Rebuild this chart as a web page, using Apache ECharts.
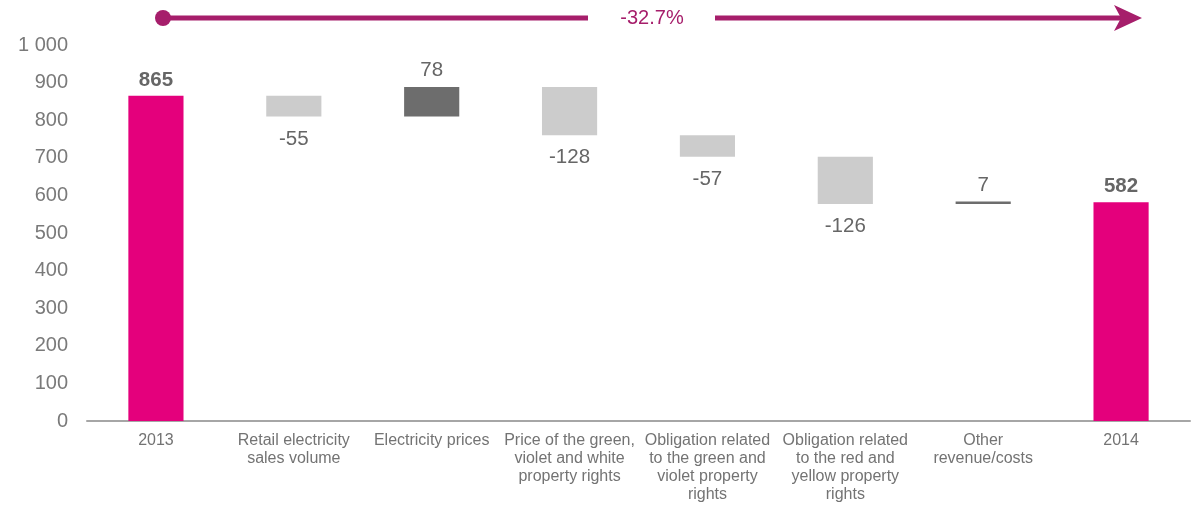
<!DOCTYPE html>
<html lang="en">
<head>
    <meta charset="UTF-8">
    <title>Waterfall 2013 - 2014</title>
    <script src="https://cdn.jsdelivr.net/npm/echarts@6/dist/echarts.min.js"></script>
    <style>
        html, body {margin: 0; padding: 0; background: #fff;}
    </style>
</head>
<body>
<div id="main" style="width: 1194px;height: 505px;"></div>

<script type="text/javascript">
    // categories and values
    var categories = [
        '2013',
        'Retail electricity\nsales volume',
        'Electricity prices',
        'Price of the green,\nviolet and white\nproperty rights',
        'Obligation related\nto the green and\nviolet property\nrights',
        'Obligation related\nto the red and\nyellow property\nrights',
        'Other\nrevenue/costs',
        '2014'
    ];
    var changes = [865, -55, 78, -128, -57, -126, 7, 582];
    var isTotal = [true, false, false, false, false, false, false, true];
    var yTicks = [0, 100, 200, 300, 400, 500, 600, 700, 800, 900, 1000];

    var totalColor = '#e4007c';
    var upColor = '#6d6d6d';
    var downColor = '#cccccc';
    var accent = '#a61e6b';
    var font = 'Arial, "Liberation Sans", sans-serif';

    // running sum -> invisible base + visible part
    var baseData = [];
    var barData = [];
    var running = 0;
    for (var i = 0; i < changes.length; i++) {
        var v = changes[i];
        if (isTotal[i]) {
            running = v;
            baseData.push(0);
            barData.push({
                value: v,
                itemStyle: {color: totalColor},
                label: {show: true, position: 'top', distance: 5, fontWeight: 'bold', fontSize: 20.5, formatter: String(v)}
            });
        } else {
            var start = running;
            running += v;
            baseData.push(Math.min(start, running));
            barData.push({
                value: Math.abs(v),
                itemStyle: {color: v < 0 ? downColor : upColor},
                label: {show: true, position: v < 0 ? 'bottom' : 'top', distance: v < 0 ? 12 : 6, formatter: String(v)}
            });
        }
    }

    var first = changes[0], last = changes[changes.length - 1];
    var pct = ((last / first - 1) * 100).toFixed(1) + '%';

    var myChart = echarts.init(document.getElementById('main'));

    var option = {
        animation: false,
        textStyle: {fontFamily: font},
        grid: {left: 87, right: 4, top: 45, bottom: 84, containLabel: false},
        xAxis: {
            type: 'category',
            data: categories,
            axisLine: {lineStyle: {color: '#a6a6a6', width: 2}},
            axisTick: {show: false},
            axisLabel: {
                interval: 0,
                color: '#737373',
                fontSize: 16,
                lineHeight: 18,
                margin: 11,
                fontFamily: font
            }
        },
        yAxis: {
            type: 'value',
            min: yTicks[0],
            max: yTicks[yTicks.length - 1],
            interval: 100,
            splitLine: {show: false},
            axisLine: {show: false},
            axisTick: {show: false},
            axisLabel: {
                color: '#7a7a7a',
                fontSize: 20,
                margin: 19,
                fontFamily: font,
                formatter: function (val) {
                    return String(val).replace(/\B(?=(\d{3})+(?!\d))/g, ' ');
                }
            }
        },
        series: [
            {
                name: 'base',
                type: 'bar',
                stack: 'w',
                barWidth: '40%',
                itemStyle: {color: 'transparent'},
                emphasis: {disabled: true},
                data: baseData
            },
            {
                name: 'value',
                type: 'bar',
                stack: 'w',
                barWidth: '40%',
                label: {color: '#666666', fontSize: 20.5, fontFamily: font},
                data: barData
            }
        ],
        graphic: [
            {
                type: 'circle',
                shape: {cx: 163, cy: 18, r: 8},
                style: {fill: accent}
            },
            {
                type: 'line',
                shape: {x1: 163, y1: 18, x2: 588, y2: 18},
                style: {stroke: accent, lineWidth: 5}
            },
            {
                type: 'line',
                shape: {x1: 715, y1: 18, x2: 1125, y2: 18},
                style: {stroke: accent, lineWidth: 5}
            },
            {
                type: 'polygon',
                shape: {points: [[1114, 5], [1142, 18], [1114, 31], [1121, 18]]},
                style: {fill: accent}
            },
            {
                type: 'text',
                x: 652,
                y: 18,
                style: {
                    text: pct,
                    fill: accent,
                    font: '20px ' + font,
                    textAlign: 'center',
                    textVerticalAlign: 'middle'
                }
            }
        ]
    };

    myChart.setOption(option);
</script>
</body>
</html>
